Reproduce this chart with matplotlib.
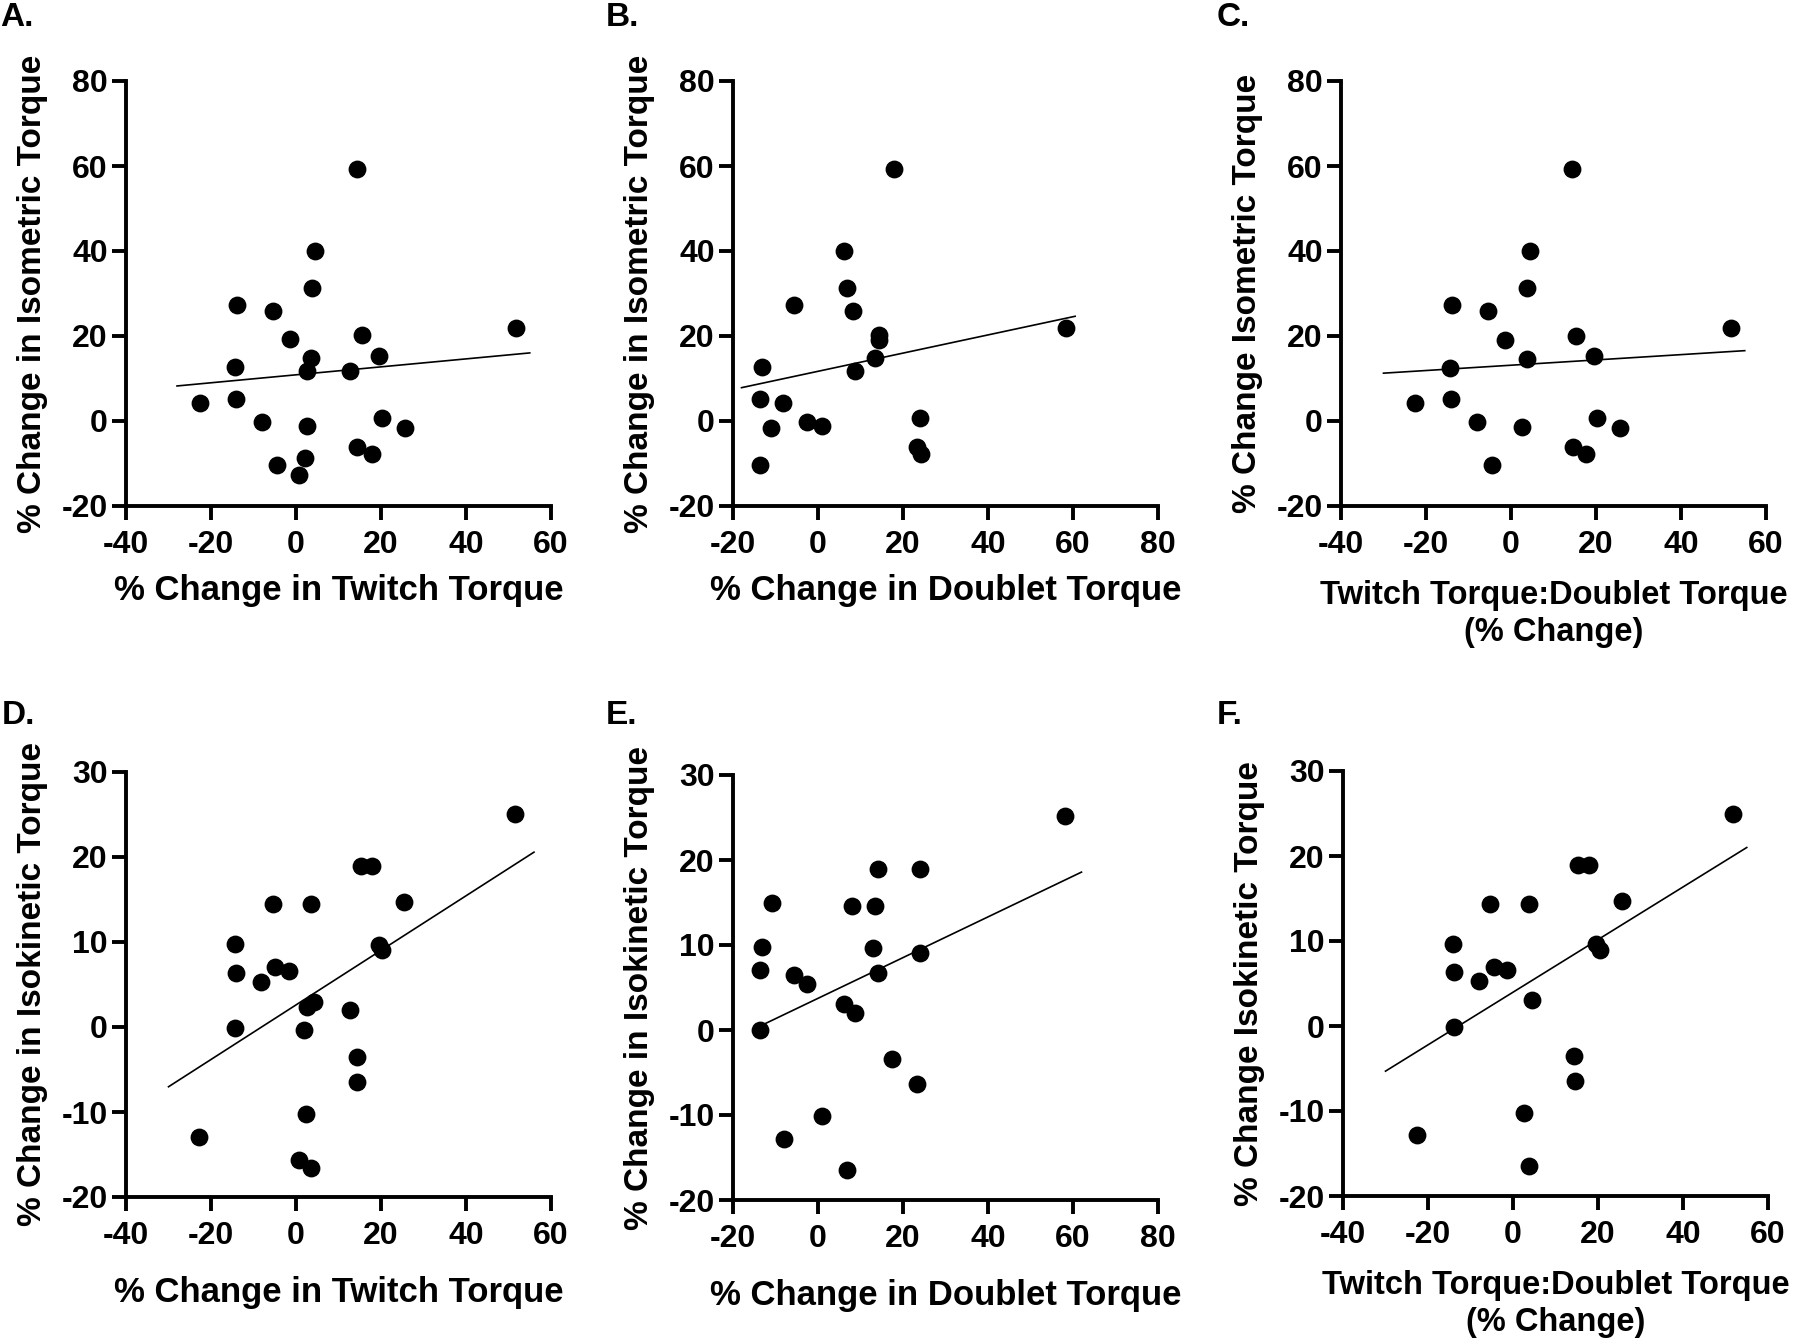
import numpy as np
import matplotlib
matplotlib.use('Agg')
import matplotlib.pyplot as plt

# data
# top row: % change in isometric torque
twitch_A = [14.3, 4.5, 3.8, -14.0, -5.4, -1.5, 15.5, 51.8, 3.6, 19.6, 2.7, 12.8,
            -14.4, -22.7, -14.2, -8.1, 2.5, 20.2, 25.6, 14.4, 17.8, 2.0, -4.5, 0.7]
iso_A = [59.2, 39.9, 31.2, 27.4, 25.8, 19.2, 20.2, 21.9, 14.8, 15.3, 11.8, 11.8,
         12.6, 4.2, 5.1, -0.2, -1.2, 0.8, -1.6, -6.1, -7.8, -8.6, -10.4, -12.6]

doublet_B = [17.8, 6.2, 6.9, -5.6, 8.2, 14.3, 14.3, 58.4, 13.4, 8.8, -13.1, -13.7,
             -8.2, -2.6, 0.9, -11.0, 24.0, 23.4, 24.2, -13.6]
iso_B = [59.2, 39.9, 31.2, 27.4, 25.8, 20.2, 19.0, 21.9, 14.8, 11.8, 12.6, 5.1,
         4.2, -0.2, -1.2, -1.6, 0.8, -6.1, -7.8, -10.4]

ratio_C = [14.4, 4.4, 3.8, -14.0, -5.3, -1.5, 15.4, 51.8, 3.8, 19.6, -14.3, -22.7,
           -14.1, -8.1, 2.7, 20.3, 25.6, 14.5, 17.7, -4.5]
iso_C = [59.2, 39.9, 31.2, 27.4, 25.8, 19.1, 20.1, 21.8, 14.5, 15.2, 12.5, 4.2,
         5.1, -0.2, -1.3, 0.7, -1.6, -6.1, -7.8, -10.4]

# bottom row: % change in isokinetic torque
twitch_D = [51.5, 15.3, 17.8, -5.5, 3.5, 25.4, -14.4, 19.5, 20.2, -14.1, -4.9, -1.6,
            -8.3, 4.3, 2.7, 12.7, -14.3, 1.9, 14.3, 14.4, 2.4, -22.8, 0.6, 3.6]
isok_D = [25.1, 18.9, 18.9, 14.5, 14.5, 14.7, 9.8, 9.7, 9.1, 6.4, 7.1, 6.6,
          5.3, 3.0, 2.4, 2.0, -0.1, -0.3, -3.5, -6.5, -10.2, -12.9, -15.7, -16.6]

doublet_E = [58.1, 14.1, 23.9, -10.8, 8.1, 13.3, -13.1, 13.0, 23.9, -13.6, -5.7,
             -2.6, 14.1, 6.0, 8.6, -13.7, 17.5, 23.2, 0.9, -8.1, 6.8]
isok_E = [25.2, 19.0, 19.0, 14.9, 14.6, 14.6, 9.8, 9.7, 9.1, 7.1, 6.5,
          5.4, 6.7, 3.1, 2.0, 0.0, -3.4, -6.4, -10.1, -12.8, -16.5]

ratio_F = [51.7, 15.4, 17.9, -5.3, 3.8, 25.6, -14.2, 19.5, 20.4, -13.9, -4.5, -1.4,
           -8.1, 4.4, -14.0, 14.4, 14.5, 2.6, -22.7, 3.8]
isok_F = [25.0, 18.9, 18.9, 14.4, 14.4, 14.7, 9.7, 9.7, 9.0, 6.4, 7.0, 6.6,
          5.3, 3.1, -0.1, -3.5, -6.5, -10.2, -12.8, -16.5]

# x span of each regression line
fit_span = [(-28, 55), (-18, 60.5), (-30, 55), (-30, 56), (-12.5, 62), (-30, 55)]

panels = [
    ('A.', twitch_A, iso_A, '% Change in Twitch Torque', '% Change in Isometric Torque'),
    ('B.', doublet_B, iso_B, '% Change in Doublet Torque', '% Change in Isometric Torque'),
    ('C.', ratio_C, iso_C, 'Twitch Torque:Doublet Torque\n(% Change)', '% Change Isometric Torque'),
    ('D.', twitch_D, isok_D, '% Change in Twitch Torque', '% Change in Isokinetic Torque'),
    ('E.', doublet_E, isok_E, '% Change in Doublet Torque', '% Change in Isokinetic Torque'),
    ('F.', ratio_F, isok_F, 'Twitch Torque:Doublet Torque\n(% Change)', '% Change Isokinetic Torque'),
]
xlims = [(-40, 60), (-20, 80), (-40, 60), (-40, 60), (-20, 80), (-40, 60)]
ylims = [(-20, 80, 20)] * 3 + [(-20, 30, 10)] * 3

plt.rcParams['font.family'] = ['Liberation Sans', 'DejaVu Sans']
plt.rcParams['font.weight'] = 'bold'
plt.rcParams['axes.unicode_minus'] = False

W, H = 1800, 1343
fig = plt.figure(figsize=(18, 13.43), dpi=100)

# axes boxes in pixels: left, top
boxes = [(126, 81), (733, 81), (1341, 81), (126, 772), (733, 775), (1343, 771)]
size = 425
letter_pos = [(0, 2), (606, 2), (1217, 2), (2, 700), (606, 700), (1217, 700)]

for i, (letter, xs, ys, xlab, ylab) in enumerate(panels):
    l, t = boxes[i]
    ax = fig.add_axes([l / W, 1 - (t + size) / H, size / W, size / H])
    ax.scatter(xs, ys, s=140, color='black', zorder=3, clip_on=False)
    k, b = np.polyfit(xs, ys, 1)
    fx = np.array(fit_span[i])
    ax.plot(fx, k * fx + b, color='black', lw=1.2)

    for s in ['top', 'right']:
        ax.spines[s].set_visible(False)
    for s in ['left', 'bottom']:
        ax.spines[s].set_linewidth(2.8)
    ax.tick_params(width=2.8, length=10, labelsize=23)
    ax.tick_params(axis='x', pad=7)
    ax.tick_params(axis='y', pad=3)

    x0, x1 = xlims[i]
    y0, y1, ys_step = ylims[i]
    ax.set_xlim(x0, x1)
    ax.set_ylim(y0, y1)
    xt = np.arange(x0, x1 + 1, 20)
    yt = np.arange(y0, y1 + 1, ys_step)
    ax.set_xticks(xt, labels=[str(v) for v in xt], fontweight='heavy', fontsize=23)
    ax.set_yticks(yt, labels=[str(v) for v in yt], fontweight='heavy', fontsize=23)

    two_line = '\n' in xlab
    ax.set_xlabel(xlab, fontsize=23.5 if two_line else 25, fontweight='bold', linespacing=1.25)
    ax.set_ylabel(ylab, fontsize=24, fontweight='bold')
    bottom_row = i >= 3
    if two_line:
        ax.xaxis.set_label_coords(0.5, -0.255)
    else:
        ax.xaxis.set_label_coords(0.5, -0.225 if bottom_row else -0.20)
    ax.yaxis.set_label_coords(-0.22, 0.5)
    ax.xaxis.label.set_va('center')
    ax.yaxis.label.set_va('center')

    lx, ly = letter_pos[i]
    fig.text(lx / W, 1 - ly / H, letter, fontsize=24, fontweight='bold', va='top', ha='left')

fig.savefig('out.png', dpi=100)
